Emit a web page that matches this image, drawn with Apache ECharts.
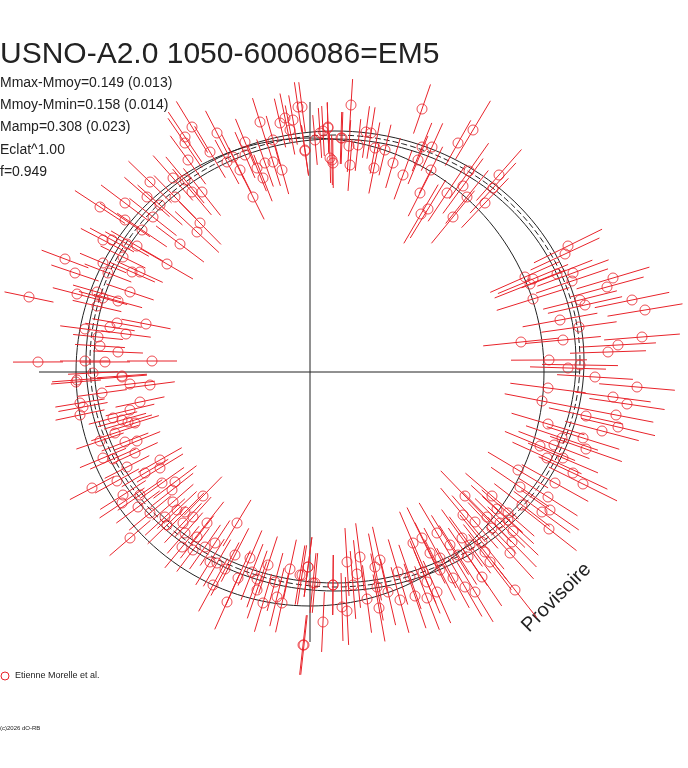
<!DOCTYPE html>
<html><head><meta charset="utf-8">
<script src="https://cdn.jsdelivr.net/npm/echarts@6/dist/echarts.min.js"></script>
<style>html,body{margin:0;padding:0;background:#fff}#c{width:688px;height:768px}</style>
</head><body><div id="c"></div>
<script>
const obsScreen = [
[298,107],[260,122],[285,118],[293,120],[280,123],[290,130],[328,128],[320,133],[315,140],[273,140],[245,142],[305,150],[332,160],[342,138],
[217,133],[192,127],[185,137],[185,143],[210,152],[188,160],[233,157],[245,155],[227,162],[240,170],[257,168],[265,163],[273,162],[282,170],
[263,178],[253,197],[173,178],[185,180],[150,182],[192,192],[202,192],[175,197],[147,197],[125,203],[100,207],[160,205],[153,217],[125,220],
[142,230],[200,223],[197,232],[180,244],[103,240],[112,240],[127,244],[137,246],[65,259],[123,257],[167,264],[103,263],[75,273],[108,273],
[132,272],[140,272],[29,297],[77,294],[97,292],[103,298],[118,301],[130,292],[97,306],[117,323],[110,327],[146,324],[85,329],[98,337],
[126,334],[100,346],[118,352],[38,362],[85,361],[105,362],[152,361],[93,373],[122,376],[77,380],
[351,105],[422,109],[302,107],[328,127],[323,131],[473,130],[458,143],[366,132],[371,133],[341,138],[349,146],[358,145],[305,151],[330,158],
[333,163],[350,165],[375,148],[374,168],[385,150],[393,163],[403,175],[422,147],[432,147],[418,160],[431,170],[420,193],[428,209],[421,214],
[447,193],[453,217],[463,186],[467,197],[469,171],[485,203],[493,188],[499,175],[568,246],[565,254],[525,277],[533,279],[530,284],[557,274],
[573,273],[572,281],[613,278],[607,287],[533,299],[580,300],[585,305],[632,300],[645,310],[560,320],[579,327],[521,342],[563,340],[642,337],
[618,345],[608,352],[549,360],[568,368],[580,365],[595,377],
[637,387],[548,388],[542,401],[613,397],[627,404],[586,416],[616,415],[548,424],[602,431],[618,427],[562,438],[583,438],[540,446],[554,445],
[586,449],[547,458],[563,458],[518,470],[573,473],[555,483],[583,484],[520,487],[548,497],[522,505],[542,512],[550,510],[549,529],[465,496],
[492,496],[497,509],[508,513],[463,515],[475,522],[487,517],[500,523],[508,520],[492,528],[513,531],[437,533],[462,538],[422,538],[413,543],
[450,545],[470,545],[482,542],[512,542],[485,552],[510,553],[430,553],[440,558],[458,555],[468,557],[490,562],[360,557],[347,562],[380,560],
[375,567],[357,574],[398,572],[410,577],[423,572],[440,570],[482,577],[453,578],[465,587],[475,592],[515,590],[427,582],[437,592],[415,596],
[427,598],[400,600],[388,592],[377,587],[353,585],[333,585],[315,583],[308,567],[302,575],[367,599],[342,607],[347,611],[379,608],[323,622],[304,645],
[76,382],[130,384],[150,385],[122,377],[102,393],[80,403],[83,407],[140,402],[130,410],[80,415],[113,418],[122,420],[128,422],[135,423],
[115,433],[100,441],[125,442],[137,441],[135,453],[103,458],[113,459],[127,467],[160,460],[160,468],[145,473],[117,481],[92,488],[162,483],
[175,482],[172,490],[123,495],[140,495],[203,496],[122,503],[138,507],[173,502],[150,513],[177,510],[185,512],[193,517],[165,517],[167,525],
[183,523],[207,523],[237,523],[130,538],[185,533],[197,537],[215,543],[182,547],[193,550],[205,547],[235,555],[250,558],[268,565],[210,562],
[217,563],[225,569],[252,572],[290,569],[300,575],[308,567],[238,578],[257,579],[275,582],[213,585],[313,583],[257,590],[277,597],[282,603],
[263,603],[227,602],[333,585],[303,645]
];
// Half error length by 30-degree phase sector (0 = right, counter-clockwise)
const errBySector = [38, 34, 26, 25, 30, 25, 25, 27, 30, 34, 35, 38];
const fitCenter = [25, 11];
const fitRadii = [[241,222],[245,226],[249,230]];
const meanRadius = 234;
const titleText = 'USNO-A2.0 1050-6006086=EM5';
const statLines = ['Mmax-Mmoy=0.149 (0.013)','Mmoy-Mmin=0.158 (0.014)','Mamp=0.308 (0.023)','Eclat^1.00','f=0.949'];

const OX = 310, OY = 372;
const obs = obsScreen.map(p => [p[0]-OX, OY-p[1]]);
function ellipse(cx, cy, rx, ry){ const a=[]; for(let i=0;i<=360;i+=2){const t=i*Math.PI/180; a.push([cx+rx*Math.cos(t), cy+ry*Math.sin(t)]);} return a; }
const ch = echarts.init(document.getElementById('c'));
const lineS = (data, type) => ({type:'line', data, symbol:'none', silent:true, lineStyle:{color:'#222', width:1, type:type||'solid'}, z:2});
ch.setOption({
  animation:false,
  grid:{left:0,top:0,width:688,height:768},
  xAxis:{type:'value',min:-310,max:378,show:false},
  yAxis:{type:'value',min:-396,max:372,show:false},
  title:[{text:titleText,left:0,top:40,padding:0,textStyle:{fontFamily:'Liberation Sans',fontSize:30,fontWeight:'normal',color:'#222'}}],
  graphic:[
    ...statLines.map((s,i)=>({type:'text',left:0,top:76+i*22.3,style:{text:s,font:'14px Liberation Sans',fill:'#222'}})),
    {type:'text',x:518,y:622,rotation:45*Math.PI/180,style:{text:'Provisoire',font:'20px Liberation Sans',fill:'#222'}},
    {type:'circle',shape:{cx:5,cy:676,r:4},style:{fill:'none',stroke:'#e8232a',lineWidth:1}},
    {type:'text',left:15,top:671,style:{text:'Etienne Morelle et al.',font:'9px Liberation Sans',fill:'#222'}},
    {type:'text',left:0,top:725,style:{text:'(c)2026 dO-RB',font:'6px Liberation Sans',fill:'#222'}}
  ],
  series:[
    lineS([[-271,0],[270,0]]),
    lineS([[0,270],[0,-270]]),
    lineS(ellipse(0,0,meanRadius,meanRadius)),
    lineS(ellipse(fitCenter[0],fitCenter[1],fitRadii[0][0],fitRadii[0][1])),
    lineS(ellipse(fitCenter[0],fitCenter[1],fitRadii[1][0],fitRadii[1][1]),[6,3]),
    lineS(ellipse(fitCenter[0],fitCenter[1],fitRadii[2][0],fitRadii[2][1])),
    {type:'custom', data:obs, silent:true, z:3,
     renderItem:function(params, api){
       const x=api.value(0), y=api.value(1);
       const dx=x-fitCenter[0], dy=y-fitCenter[1];
       let ang=Math.atan2(dy,dx)*180/Math.PI; if(ang<0) ang+=360;
       const e=errBySector[Math.floor(ang/30)%12];
       const L=Math.hypot(dx,dy)||1, ux=dx/L, uy=dy/L;
       const p1=api.coord([x-ux*e,y-uy*e]), p2=api.coord([x+ux*e,y+uy*e]);
       return {type:'line',shape:{x1:p1[0],y1:p1[1],x2:p2[0],y2:p2[1]},style:{stroke:'#e8232a',lineWidth:1}};
     }},
    {type:'scatter', data:obs, symbol:'circle', symbolSize:10, silent:true, z:4,
     itemStyle:{color:'rgba(0,0,0,0)', borderColor:'#e8232a', borderWidth:1}}
  ]
});
</script></body></html>
